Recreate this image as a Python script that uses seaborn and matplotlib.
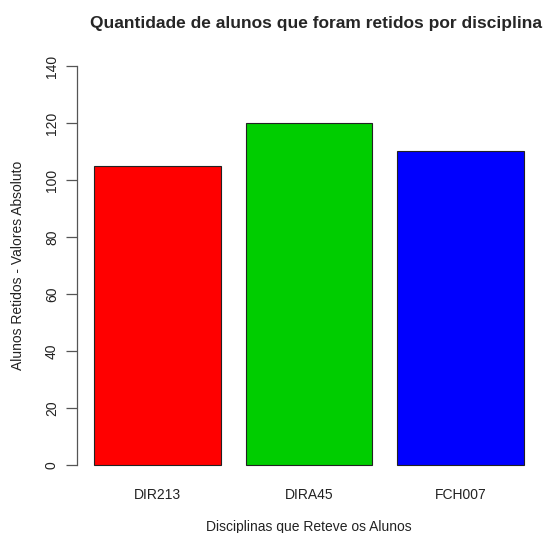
import numpy as np
import matplotlib.pyplot as plt
import matplotlib as mpl
import pandas as pd
import seaborn as sns

# data
disciplinas = ["DIR213", "DIRA45", "FCH007"]
retidos = [105, 120, 110]
cores = ["#FF0000", "#00CD00", "#0000FF"]

sns.set_style("white")
mpl.rc('font', **{'family': 'sans-serif', 'sans-serif': ['Liberation Sans', 'DejaVu Sans']})

df = pd.DataFrame({"disciplina": disciplinas, "retidos": retidos})

fig = plt.figure(figsize=(5.43, 5.33), dpi=100)
ax = fig.add_axes([0.1418, 0.0976, 0.8545, 0.8086])

sns.barplot(data=df, x="disciplina", y="retidos", hue="disciplina",
            palette=cores, saturation=1, width=1 / 1.2, edgecolor="#222222",
            linewidth=0.8, legend=False, ax=ax)

ax.set_xlim(-0.53, 2.53)
ax.set_ylim(-5.6, 145.6)

# R-like axes: only the left axis, spanning 0..140
for s in ["top", "right", "bottom"]:
    ax.spines[s].set_visible(False)
ax.spines["left"].set_bounds(0, 140)
ax.spines["left"].set_color("#555555")
ax.spines["left"].set_linewidth(0.9)

ax.set_yticks(np.arange(0, 141, 20))
ax.tick_params(axis="y", direction="out", length=8, width=0.9, color="#555555",
               labelsize=10, labelcolor="#222222", pad=5, left=True)
for lab in ax.get_yticklabels():
    lab.set_rotation(90)
    lab.set_va("center")
ax.tick_params(axis="x", length=0, labelsize=10, labelcolor="#222222", pad=5)

ax.set_xlabel("Disciplinas que Reteve os Alunos", fontsize=10, color="#222222", labelpad=13)
ax.set_ylabel("Alunos Retidos - Valores Absoluto", fontsize=10, color="#222222", labelpad=14)
ax.set_title("Quantidade de alunos que foram retidos por disciplina",
             fontsize=12.5, fontweight="bold", pad=16, x=0.515)

fig.savefig("out.png", dpi=100)
